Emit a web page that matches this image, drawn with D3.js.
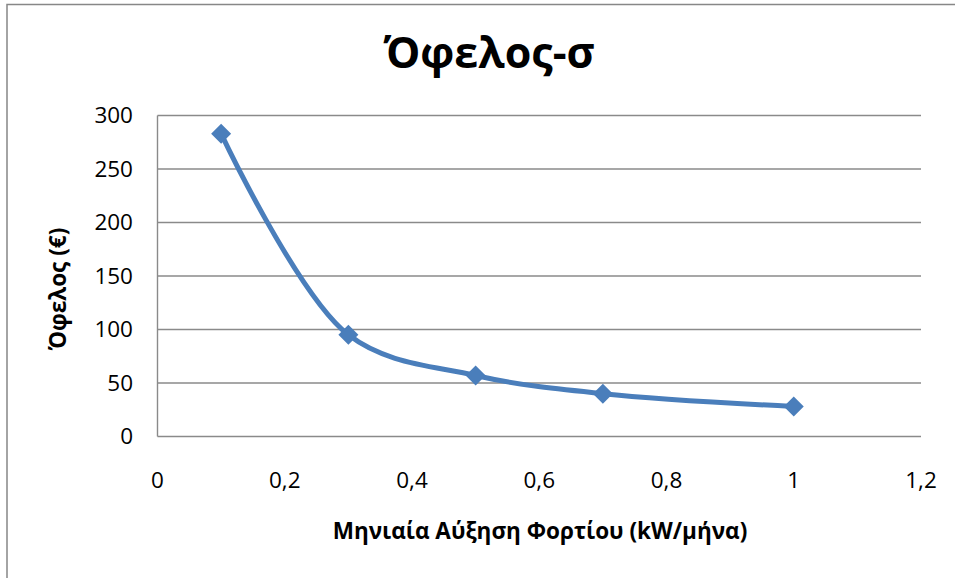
<!DOCTYPE html>
<html>
<head>
<meta charset="utf-8">
<script src="https://cdn.jsdelivr.net/npm/d3@7/dist/d3.min.js"></script>
<style>
  html, body { margin: 0; padding: 0; background: #fff; }
  svg { display: block; font-family: "Open Sans", "Noto Sans", sans-serif; }
</style>
</head>
<body>
<svg id="chart" width="955" height="578"></svg>
<script>
// Benefit vs. monthly load growth
const loadGrowth = [0.1, 0.3, 0.5, 0.7, 1.0];
const benefit = [283, 95, 57, 40, 28];
const xTicks = [0, 0.2, 0.4, 0.6, 0.8, 1, 1.2];
const yTicks = [0, 50, 100, 150, 200, 250, 300];
const titleText = "Όφελος-σ";
const xTitle = "Μηνιαία Αύξηση Φορτίου (kW/μήνα)";
const yTitle = "Όφελος (€)";

const svg = d3.select("#chart");
const W = 955, H = 578;
const plotLeft = 157.5, plotRight = 921, plotTop = 115.5, plotBottom = 436.5;
const lineColor = "#4a7ebb";
const gridColor = "#8a8a8a";

// outer frame
svg.append("rect")
  .attr("x", 7).attr("y", 4.5)
  .attr("width", W + 10).attr("height", H + 10)
  .attr("fill", "#fff").attr("stroke", "#878787").attr("stroke-width", 1.5);

const x = d3.scaleLinear().domain([0, 1.2]).range([plotLeft, plotRight]);
const y = d3.scaleLinear().domain([0, 300]).range([plotBottom, plotTop]);

// horizontal gridlines
svg.append("g").selectAll("line").data(yTicks).join("line")
  .attr("x1", plotLeft).attr("x2", plotRight)
  .attr("y1", d => y(d)).attr("y2", d => y(d))
  .attr("stroke", gridColor).attr("stroke-width", 1.4);

// vertical axis line
svg.append("line")
  .attr("x1", plotLeft).attr("x2", plotLeft).attr("y1", plotTop).attr("y2", plotBottom)
  .attr("stroke", gridColor).attr("stroke-width", 1.4);

const fmt = d => String(d).replace(".", ",");

// y tick labels
svg.append("g").selectAll("text").data(yTicks).join("text")
  .attr("x", 133).attr("y", d => y(d))
  .attr("dy", "0.35em")
  .attr("text-anchor", "end")
  .attr("font-size", 22.5).attr("fill", "#000")
  .text(d => d);

// x tick labels
svg.append("g").selectAll("text").data(xTicks).join("text")
  .attr("x", d => x(d)).attr("y", 488)
  .attr("text-anchor", "middle")
  .attr("font-size", 22.5).attr("fill", "#000")
  .text(fmt);

// smoothed series line
const data = loadGrowth.map((v, i) => [v, benefit[i]]);
const line = d3.line()
  .x(d => x(d[0])).y(d => y(d[1]))
  .curve(d3.curveCatmullRom.alpha(0.5));
svg.append("path")
  .datum(data)
  .attr("d", line)
  .attr("fill", "none")
  .attr("stroke", lineColor)
  .attr("stroke-width", 5)
  .attr("stroke-linejoin", "round");

// diamond markers
const r = 10;
svg.append("g").selectAll("path").data(data).join("path")
  .attr("d", d => {
    const cx = x(d[0]), cy = y(d[1]);
    return `M${cx},${cy - r}L${cx + r},${cy}L${cx},${cy + r}L${cx - r},${cy}Z`;
  })
  .attr("fill", lineColor);

// titles
svg.append("text")
  .attr("x", 489).attr("y", 68)
  .attr("text-anchor", "middle")
  .attr("font-size", 43).attr("font-weight", "bold")
  .text(titleText);

svg.append("text")
  .attr("x", 540).attr("y", 539)
  .attr("text-anchor", "middle")
  .attr("font-size", 22.5).attr("font-weight", "bold")
  .text(xTitle);

svg.append("text")
  .attr("transform", "translate(66,289) rotate(-90)")
  .attr("text-anchor", "middle")
  .attr("font-size", 22.5).attr("font-weight", "bold")
  .text(yTitle);
</script>
</body>
</html>
